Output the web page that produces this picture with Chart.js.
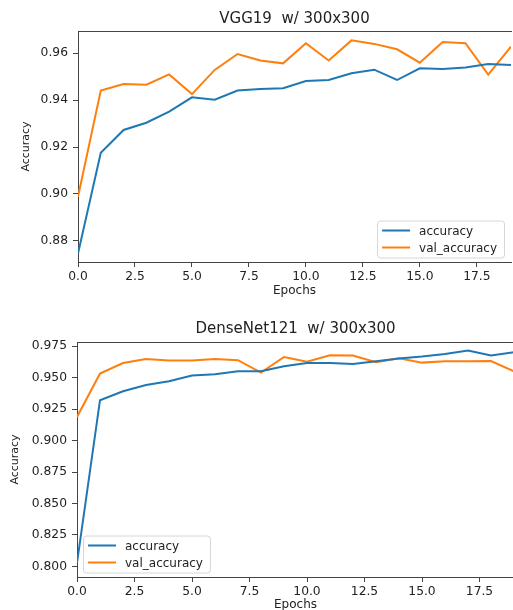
<!DOCTYPE html>
<html>
<head>
<meta charset="utf-8">
<script src="https://cdn.jsdelivr.net/npm/chart.js"></script>
<style>
  html, body { margin: 0; padding: 0; background: #fff; overflow: hidden; width: 513px; height: 610px; }
  canvas { position: absolute; left: 0; }
  #vgg { top: 0; }
  #dense { top: 300px; }
</style>
</head>
<body>
<canvas id="vgg" width="520" height="300"></canvas>
<canvas id="dense" width="520" height="320"></canvas>
<script>
// data
const epochs = [0, 1, 2, 3, 4, 5, 6, 7, 8, 9, 10, 11, 12, 13, 14, 15, 16, 17, 18, 19];
const seriesLabels = ['accuracy', 'val_accuracy'];

const vggAccuracy = [0.8746, 0.9176, 0.9273, 0.9304, 0.9351, 0.9412, 0.9402, 0.9441, 0.9448, 0.9451,
  0.9482, 0.9486, 0.9515, 0.9530, 0.9486, 0.9536, 0.9533, 0.9539, 0.9554, 0.9550];
const vggValAccuracy = [0.8988, 0.9441, 0.9469, 0.9466, 0.9510, 0.9426, 0.9529, 0.9597, 0.9569, 0.9557,
  0.9643, 0.9569, 0.9655, 0.9640, 0.9617, 0.9560, 0.9648, 0.9643, 0.9509, 0.9628];

const denseAccuracy = [0.8027, 0.9321, 0.9392, 0.9442, 0.9472, 0.9517, 0.9527, 0.9551, 0.9551, 0.9591,
  0.9617, 0.9617, 0.9609, 0.9631, 0.9652, 0.9668, 0.9689, 0.9716, 0.9676, 0.9702];
const denseValAccuracy = [0.9188, 0.9533, 0.9617, 0.9649, 0.9636, 0.9636, 0.9649, 0.9639, 0.9541, 0.9665,
  0.9628, 0.9678, 0.9676, 0.9623, 0.9655, 0.9620, 0.9631, 0.9631, 0.9633, 0.9551];

const seriesColors = ['#1f77b4', '#ff7f0e'];
const frameColor = '#444';

Chart.defaults.font.family = "'DejaVu Sans', sans-serif";
Chart.defaults.color = '#222';

// matplotlib-like legend box inside the plot area
const boxLegend = {
  id: 'boxLegend',
  afterDatasetsDraw(chart, args, opts) {
    const { ctx, chartArea: a } = chart;
    const items = chart.data.datasets;
    ctx.save();
    ctx.font = "12px 'DejaVu Sans'";
    const textW = Math.max(...items.map(d => ctx.measureText(d.label).width));
    const w = 5 + 28 + 9 + textW + 7;
    const h = 20 + 17 * (items.length - 1);
    const x = opts.corner === 'right' ? a.right - 7 - w : a.left + 6;
    const y = a.bottom - 4.5 - h;
    ctx.beginPath();
    ctx.roundRect(x + 0.5, y + 0.5, w, h, 3);
    ctx.fillStyle = 'rgba(255,255,255,0.8)';
    ctx.fill();
    ctx.strokeStyle = '#d6d6d6';
    ctx.lineWidth = 1;
    ctx.stroke();
    items.forEach((d, i) => {
      const ly = y + 10 + i * 17;
      ctx.beginPath();
      ctx.moveTo(x + 5, ly);
      ctx.lineTo(x + 33, ly);
      ctx.strokeStyle = d.borderColor;
      ctx.lineWidth = 2;
      ctx.stroke();
      ctx.fillStyle = '#222';
      ctx.textBaseline = 'middle';
      ctx.textAlign = 'left';
      ctx.fillText(d.label, x + 42, ly + 1);
    });
    ctx.restore();
  }
};

function makeChart(id, title, acc, val, s) {
  return new Chart(document.getElementById(id), {
    type: 'line',
    data: {
      datasets: [acc, val].map((series, k) => ({
        label: seriesLabels[k],
        data: series.map((v, i) => ({ x: epochs[i], y: v })),
        borderColor: seriesColors[k],
        borderWidth: 2,
        pointRadius: 0,
        tension: 0,
        fill: false
      }))
    },
    options: {
      responsive: false,
      animation: false,
      devicePixelRatio: 1,
      layout: { padding: { left: 0, right: s.padRight, top: 0, bottom: 0 } },
      plugins: {
        legend: { display: false },
        tooltip: { enabled: false },
        boxLegend: { corner: s.corner }
      },
      scales: {
        x: {
          type: 'linear', position: 'bottom', min: 0, max: 19,
          ticks: { stepSize: 2.5, includeBounds: false, callback: v => v.toFixed(1),
                   font: { size: 12.3 }, padding: 2, maxRotation: 0, autoSkip: false },
          grid: { drawOnChartArea: false, tickLength: 5, color: frameColor, tickColor: frameColor },
          border: { color: frameColor, width: 1 },
          title: { display: true, text: 'Epochs', font: { size: 12 }, padding: { top: 0, bottom: s.xTitlePad } },
          afterFit: sc => { sc.height = s.xAxisH; }
        },
        x2: {
          type: 'linear', axis: 'x', position: 'top', display: true,
          ticks: { display: false },
          grid: { display: false },
          border: { color: frameColor, width: 1 },
          title: { display: true, text: title, font: { size: 15 }, padding: { top: s.titlePad, bottom: 0 } },
          afterFit: sc => { sc.height = s.topH; }
        },
        y: {
          type: 'linear', position: 'left', min: s.yMin, max: s.yMax,
          ticks: { stepSize: s.yStep, includeBounds: false, callback: v => v.toFixed(s.dec),
                   font: { size: 12.3 }, padding: 5 },
          grid: { drawOnChartArea: false, tickLength: 5, color: frameColor, tickColor: frameColor },
          border: { color: frameColor, width: 1 },
          title: { display: true, text: 'Accuracy', font: { size: 11 }, padding: { top: s.yTitlePad, bottom: 0 } },
          afterFit: sc => { sc.width = s.yAxisW; }
        }
      }
    },
    plugins: [boxLegend]
  });
}

makeChart('vgg', 'VGG19  w/ 300x300', vggAccuracy, vggValAccuracy, {
  yMin: 0.871, yMax: 0.9695, yStep: 0.02, dec: 2, corner: 'right',
  padRight: 9, topH: 31, titlePad: 10.5, xAxisH: 38, xTitlePad: 1.5, yAxisW: 78, yTitlePad: 20
});

makeChart('dense', 'DenseNet121  w/ 300x300', denseAccuracy, denseValAccuracy, {
  yMin: 0.7915, yMax: 0.9784, yStep: 0.025, dec: 3, corner: 'left',
  padRight: 6, topH: 42, titlePad: 20.5, xAxisH: 43, xTitlePad: 8, yAxisW: 77, yTitlePad: 9
});
</script>
</body>
</html>
